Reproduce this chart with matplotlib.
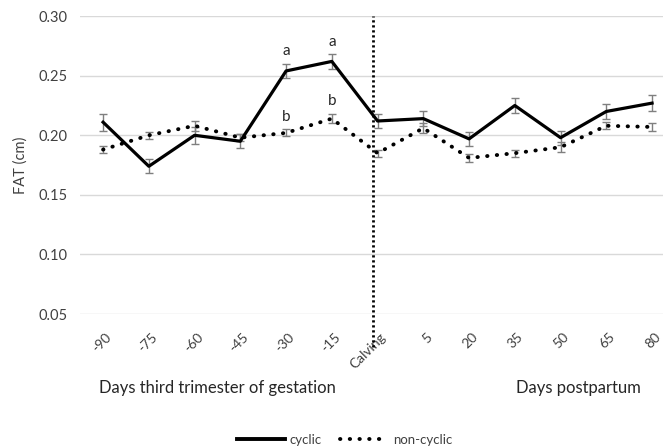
import numpy as np
import matplotlib.pyplot as plt
from matplotlib.lines import Line2D

plt.rcParams['font.family'] = ['Lato', 'DejaVu Sans']

days = ['-90', '-75', '-60', '-45', '-30', '-15', 'Calving', '5', '20', '35', '50', '65', '80']
cyclic = [0.211, 0.174, 0.200, 0.195, 0.254, 0.262, 0.212, 0.214, 0.197, 0.225, 0.198, 0.220, 0.227]
cyclic_err = [0.007, 0.006, 0.007, 0.006, 0.006, 0.006, 0.006, 0.006, 0.006, 0.006, 0.006, 0.006, 0.007]
noncyclic = [0.188, 0.200, 0.208, 0.198, 0.202, 0.214, 0.185, 0.206, 0.181, 0.185, 0.190, 0.208, 0.207]
noncyclic_err = [0.003, 0.003, 0.004, 0.003, 0.003, 0.004, 0.003, 0.004, 0.003, 0.003, 0.004, 0.003, 0.003]
letters_cyc = {4: 'a', 5: 'a'}
letters_non = {4: 'b', 5: 'b'}

grey = '#404040'
x = np.arange(len(days))
dots = (0, (0.1, 2.4))

fig = plt.figure(figsize=(6.63, 4.48), dpi=100)
ax = fig.add_axes([0.121, 0.299, 0.897, 0.665])

ax.errorbar(x, cyclic, yerr=cyclic_err, color='black', lw=2.3, ecolor='#7f7f7f',
            elinewidth=1.0, capsize=3, capthick=1.0, zorder=3)
ax.errorbar(x, noncyclic, yerr=noncyclic_err, color='black', lw=2.8, ls=dots,
            dash_capstyle='round', ecolor='#7f7f7f', elinewidth=1.0, capsize=3,
            capthick=1.0, zorder=3)

for i, t in letters_cyc.items():
    ax.annotate(t, (x[i], cyclic[i] + cyclic_err[i]), xytext=(0, 4), textcoords='offset points',
                ha='center', va='bottom', fontsize=11, color='#262626')
for i, t in letters_non.items():
    ax.annotate(t, (x[i], noncyclic[i] + noncyclic_err[i]), xytext=(0, 4), textcoords='offset points',
                ha='center', va='bottom', fontsize=11, color='#262626')

# calving marker line
ax.axvline(5.9, ymin=-0.11, ymax=1.0, color='black', lw=2.0, ls=(0, (0.8, 1.0)),
           clip_on=False, zorder=4)

ax.set_xlim(-0.5, 12.5)
ax.set_ylim(0.05, 0.30)
ax.set_yticks([0.05, 0.10, 0.15, 0.20, 0.25, 0.30])
ax.set_yticklabels(['%.2f' % v for v in [0.05, 0.10, 0.15, 0.20, 0.25, 0.30]])
ax.set_xticks(x + 0.05)
ax.set_xticklabels(days, rotation=45, ha='right', va='top', rotation_mode='anchor')
ax.tick_params(axis='x', length=0, pad=12, labelsize=10, labelcolor=grey)
ax.tick_params(axis='y', length=0, pad=9, labelsize=10.5, labelcolor=grey)
ax.grid(axis='y', color='#d9d9d9', lw=1.0)
ax.set_axisbelow(True)
for s in ax.spines.values():
    s.set_visible(False)

ax.set_ylabel('FAT (cm)', fontsize=10.5, color=grey, labelpad=8)

fig.text(0.328, 0.134, 'Days third trimester of gestation', ha='center', va='center',
         fontsize=12, color='#262626')
fig.text(0.873, 0.134, 'Days postpartum', ha='center', va='center', fontsize=12, color='#262626')

handles = [Line2D([], [], color='black', lw=2.8),
           Line2D([], [], color='black', lw=2.8, ls=dots, dash_capstyle='round')]
fig.legend(handles, ['cyclic', 'non-cyclic'], loc='center', bbox_to_anchor=(0.52, 0.018),
           ncol=2, frameon=False, fontsize=9.5, handlelength=3.6, columnspacing=1.4,
           handletextpad=0.4, labelcolor=grey)

fig.savefig('out.png', dpi=100)
